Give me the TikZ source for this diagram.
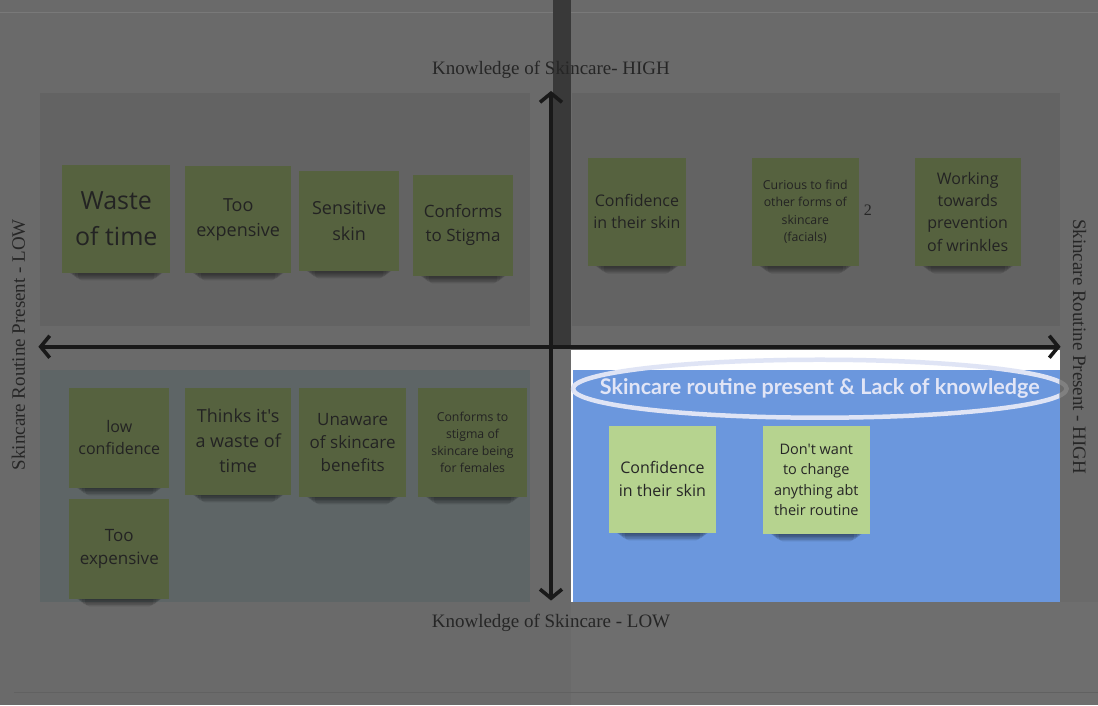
\documentclass[tikz,border=0pt]{standalone}
\usepackage{fontspec}
\setmainfont{Liberation Serif}
\newfontfamily\notefont{Open Sans}
\newfontfamily\headfont{Lato}
\usetikzlibrary{arrows.meta}
\pgfdeclarelayer{bglayer}
\pgfdeclarelayer{shadowlayer}
\pgfsetlayers{bglayer,shadowlayer,main}
\definecolor{bgc}{HTML}{6A6A6A}
\definecolor{panelc}{HTML}{636363}
\definecolor{panelbl}{HTML}{5E6566}
\definecolor{bandc}{HTML}{393939}
\definecolor{notedim}{HTML}{56623F}
\definecolor{notebright}{HTML}{B6D38F}
\definecolor{bluec}{HTML}{6B97DD}
\definecolor{ellc}{HTML}{DFE4F5}
\definecolor{labc}{HTML}{262626}
\definecolor{notetext}{HTML}{232323}
\tikzset{
  note/.style={fill=notedim, text=notetext, align=center, inner sep=0pt},
  brightnote/.style={note, fill=notebright, text=black!85},
  axislab/.style={text=labc, inner sep=0pt, font=\fontsize{19}{22}\selectfont},
  axis/.style={line width=3.6pt, black!90, {Straight Barb[length=9pt,width=22pt]}-{Straight Barb[length=9pt,width=22pt]}},
  shadowpiece/.style={fill=black, opacity=0.11, rounded corners=4pt},
}
\newcommand{\nf}[2]{\notefont\fontsize{#1}{#2}\selectfont}
\begin{document}
\begin{tikzpicture}[x=1pt,y=-1pt]
\begin{pgfonlayer}{bglayer}
% background
\fill[bgc] (0,0) rectangle (1098,706);
\fill[bgc!97!white] (571,602) rectangle (1098,706);
\draw[line width=0.8pt, bgc!90!white] (0,12) -- (1098,12);
\draw[line width=0.8pt, bgc!92!black] (14,693) -- (1098,693);
% panels
\fill[panelc] (40,93) rectangle (530,326);
\fill[panelc] (572,93) rectangle (1060,326);
\fill[panelbl] (40,370) rectangle (530,602);
% highlighted quadrant
\fill[white] (571,350) rectangle (1060,602);
\fill[bluec] (573,370) rectangle (1060,602);
\end{pgfonlayer}
\useasboundingbox (0,0) rectangle (1098,706);
\begin{scope}
\clip (571,350) rectangle (1060,602);
\draw[ellc, line width=4.5pt] (820,389) ellipse [x radius=247, y radius=29];
\end{scope}
\begin{scope}
\clip (1060,340) rectangle (1098,440);
\draw[bgc!85!white, line width=4.5pt] (820,389) ellipse [x radius=247, y radius=29];
\end{scope}
\node[text=ellc!95!white, inner sep=0pt] (title) at (820,389) {\resizebox{440pt}{!}{\headfont\bfseries Skincare routine present \& Lack of knowledge}};
% dark band
\fill[bandc] (553,0) rectangle (571,346);
% axis labels
\node[axislab] (khigh) at (551,70) {Knowledge of Skincare- HIGH};
\node[axislab] (klow) at (551,623) {Knowledge of Skincare - LOW};
\node[axislab, rotate=90] (rlow) at (18,345) {Skincare Routine Present - LOW};
\node[axislab, rotate=-90] (rhigh) at (1080,347) {Skincare Routine Present - HIGH};
% axes
\coordinate (L) at (38,347);
\coordinate (R) at (1061,347);
\coordinate (T) at (551,91);
\coordinate (B) at (551,601);
\draw[axis] (L) -- (R);
\draw[axis] (T) -- (B);
% top-left notes
\node[note, minimum width=108pt, minimum height=108pt, font=\nf{25}{36}] (n1) at (116,219) {Waste\\of time};
\node[note, minimum width=106pt, minimum height=107pt, font=\nf{18}{25}] (n2) at (238,219.5) {Too\\expensive};
\node[note, minimum width=100pt, minimum height=100pt, font=\nf{18}{26}] (n3) at (349,221) {Sensitive\\skin};
\node[note, minimum width=100pt, minimum height=101pt, font=\nf{17}{24}] (n4) at (463,225.5) {Conforms\\to Stigma};
% top-right notes
\node[note, minimum width=98pt, minimum height=108pt, font=\nf{16}{22}] (n5) at (637,212) {Confidence\\in their skin};
\node[note, minimum width=107pt, minimum height=108pt, font=\nf{12.3}{17.3}] (n6) at (805.5,212) {Curious to find\\other forms of\\skincare\\(facials)};
\node[text=labc, inner sep=0pt, font=\fontsize{16}{18}\selectfont] (two) at (868,210) {2};
\node[note, minimum width=106pt, minimum height=108pt, font=\nf{16}{22.3}] (n7) at (968,212) {Working\\towards\\prevention\\of wrinkles};
% bottom-left notes
\node[note, minimum width=100pt, minimum height=100pt, font=\nf{16}{22}] (n8) at (119,438) {low\\confidence};
\node[note, minimum width=106pt, minimum height=107pt, font=\nf{18}{25}] (n9) at (238,441.5) {Thinks it's\\a waste of\\time};
\node[note, minimum width=107pt, minimum height=109pt, font=\nf{17}{23}] (n10) at (352.5,442.5) {Unaware\\of skincare\\benefits};
\node[note, minimum width=109pt, minimum height=109pt, font=\nf{12.3}{17}] (n11) at (472.5,442.5) {Conforms to\\stigma of\\skincare being\\for females};
\node[note, minimum width=100pt, minimum height=100pt, font=\nf{17}{23}] (n12) at (119,549) {Too\\expensive};
% bottom-right notes
\node[brightnote, minimum width=107pt, minimum height=107pt, font=\nf{16}{23}] (n13) at (662.5,479.5) {Confidence\\in their skin};
\node[brightnote, minimum width=107pt, minimum height=108pt, font=\nf{14.5}{20.5}] (n14) at (816.5,480) {Don't want\\to change\\anything abt\\their routine};
% soft shadows under the notes
\begin{pgfonlayer}{shadowlayer}
\foreach \n in {n1,n2,n3,n4,n5,n6,n7,n8,n9,n10,n11,n12,n13,n14}{
  \foreach \d/\s in {1.5/7,3/9,4.5/11,6/13,7.5/16}{
    \fill[shadowpiece] ([xshift=\s pt, yshift=6pt]\n.south west) rectangle ([xshift=-\s pt, yshift=-\d pt]\n.south east);
  }
}
\end{pgfonlayer}
\end{tikzpicture}
\end{document}
